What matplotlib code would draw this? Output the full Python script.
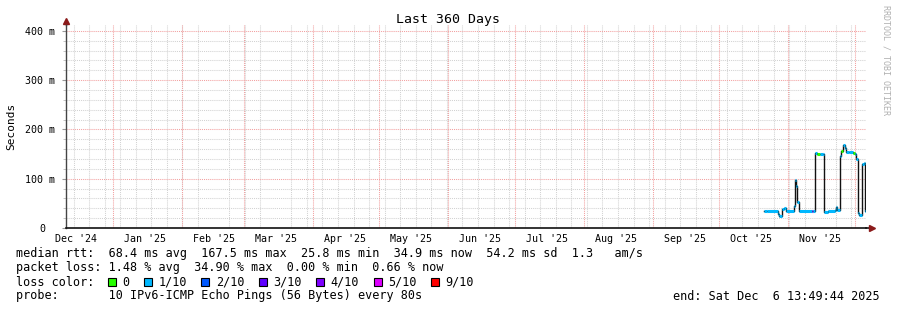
import numpy as np
import pandas as pd
import matplotlib
matplotlib.use('Agg')
import matplotlib.pyplot as plt
import matplotlib.dates as mdates
from matplotlib.ticker import MultipleLocator, FuncFormatter
from matplotlib.patches import Rectangle
from matplotlib.transforms import ScaledTranslation

plt.rcParams['font.family'] = 'DejaVu Sans Mono'

title = "Last 360 Days"
end_time = pd.Timestamp("2025-12-06 13:49:44")
start_time = end_time - pd.Timedelta(days=360)

# median rtt steps (ms)
times = ["2025-10-21 11:00", "2025-10-23 00:00", "2025-10-27 22:00", "2025-10-28 12:00",
         "2025-10-29 18:00", "2025-10-30 14:00", "2025-10-31 17:00", "2025-11-03 23:00",
         "2025-11-04 14:00", "2025-11-05 06:00", "2025-11-05 18:00", "2025-11-06 05:00",
         "2025-11-12 09:00", "2025-11-12 22:00", "2025-11-13 10:00", "2025-11-13 20:00",
         "2025-11-14 10:00", "2025-11-15 22:00", "2025-11-17 08:00", "2025-11-17 19:00",
         "2025-11-19 14:00", "2025-11-22 17:00", "2025-11-23 04:00", "2025-11-23 16:00",
         "2025-11-24 20:00", "2025-11-25 09:00", "2025-11-26 10:00", "2025-11-27 00:00",
         "2025-11-27 14:00", "2025-11-29 00:00", "2025-11-30 20:00", "2025-12-01 16:00",
         "2025-12-02 04:00", "2025-12-03 02:00", "2025-12-03 13:00", "2025-12-04 18:00",
         "2025-12-05 12:00", "2025-12-05 23:00"]
median_ms = [34, 35, 29, 25,
             38, 40, 35, 45,
             98, 86, 52, 34,
             35, 35, 102, 153,
             150, 151, 150, 33,
             34, 36, 43, 36,
             147, 156, 169, 162,
             154, 155, 152, 151,
             141, 31, 27, 129,
             131, 35]
# index into loss_colors for each step
loss_idx = [1, 1, 1, 1,
            1, 1, 1, 1,
            1, 1, 1, 1,
            4, 1, 1, 1,
            0, 1, 1, 1,
            1, 1, 1, 1,
            1, 0, 1, 1,
            1, 1, 0, 1,
            1, 1, 1, 1,
            1, 1]

loss_colors = ['#26ff00', '#00b8ff', '#0059ff', '#5e00ff', '#7e00ff', '#dd00ff', '#ff0000']
loss_labels = ['0', '1/10', '2/10', '3/10', '4/10', '5/10', '9/10']

legend_rtt = "median rtt:  68.4 ms avg  167.5 ms max  25.8 ms min  34.9 ms now  54.2 ms sd  1.3   am/s"
legend_loss = "packet loss: 1.48 % avg  34.90 % max  0.00 % min  0.66 % now"
legend_probe = "probe:       10 IPv6-ICMP Echo Pings (56 Bytes) every 80s"
legend_end = "end: Sat Dec  6 13:49:44 2025"

W, H = 897, 310
fig = plt.figure(figsize=(W / 100, H / 100), dpi=100)
ax = fig.add_axes([66 / W, 1 - 228 / H, 800 / W, 203 / H])

t = list(pd.to_datetime(times)) + [end_time]
v = median_ms + [median_ms[-1]]
ax.step(t, v, where='post', color='#111111', lw=1.0, zorder=4)
ax.hlines(median_ms, t[:-1], t[1:], colors=[loss_colors[i] for i in loss_idx], lw=2.2, zorder=5)

ax.set_xlim(start_time, end_time)
ax.set_ylim(0, 412)

grey = '#d2d2d2'
red = '#f2a0a0'
ax.yaxis.set_major_locator(MultipleLocator(100))
ax.yaxis.set_minor_locator(MultipleLocator(20))
ax.yaxis.set_major_formatter(FuncFormatter(lambda y, p: '0' if y == 0 else '%d m' % y))
ax.xaxis.set_major_locator(mdates.MonthLocator(bymonthday=16))
ax.xaxis.set_minor_locator(mdates.WeekdayLocator(byweekday=mdates.SU))
ax.xaxis.set_major_formatter(mdates.DateFormatter("%b '%y"))

ax.grid(which='minor', color=grey, ls=(0, (1, 1)), lw=0.75, zorder=0)
ax.grid(which='major', axis='y', color=red, ls=(0, (1, 1)), lw=0.75, zorder=1)
for m in pd.date_range(start_time, end_time, freq='MS'):
    ax.axvline(m, color=red, ls=(0, (1, 1)), lw=0.75, zorder=1)
ax.set_axisbelow(True)

ax.tick_params(axis='x', which='both', length=0, pad=4, labelsize=7.2)
ax.tick_params(axis='y', which='major', length=3, color='#999999', pad=5, labelsize=7.2)
ax.tick_params(axis='y', which='minor', length=2, color='#bbbbbb')

for s in ['top', 'right']:
    ax.spines[s].set_visible(False)
ax.spines['left'].set_color('#444444')
ax.spines['bottom'].set_color('#111111')
ax.spines['left'].set_linewidth(1.0)
ax.spines['bottom'].set_linewidth(1.2)

# axis arrows
arrow_c = '#8b1a1a'
ax.plot([0, 0], [1, 1.02], transform=ax.transAxes, color='#444444', lw=1.0, clip_on=False)
ax.plot([1, 1.006], [0, 0], transform=ax.transAxes, color='#111111', lw=1.2, clip_on=False)
ax.plot(0, 1.022, marker='^', ms=4.5, color=arrow_c, transform=ax.transAxes, clip_on=False)
ax.plot(1.007, 0, marker='>', ms=4.5, color=arrow_c, transform=ax.transAxes, clip_on=False)

ax.set_ylabel('Seconds', fontsize=8)
ax.yaxis.set_label_coords((16 - 66) / 800, 0.5)

# rrdtool prints "0" two columns further left
fig.canvas.draw()
for tk in ax.yaxis.get_major_ticks():
    if tk.get_loc() == 0:
        lab = tk.label1
        lab.set_transform(lab.get_transform() + ScaledTranslation(-0.10, 0, fig.dpi_scale_trans))

fig.text(448 / W, 1 - 19 / H, title, ha='center', va='center', fontsize=9.5)
fig.text(886 / W, 1 - 60 / H, "RRDTOOL / TOBI OETIKER", rotation=270, ha='center', va='center',
         fontsize=6, color='#b0b0b0')

fs = 8.5
cw = 7.1
x0 = 16
fig.text(x0 / W, 1 - 254 / H, legend_rtt, va='center', fontsize=fs)
fig.text(x0 / W, 1 - 268 / H, legend_loss, va='center', fontsize=fs)
fig.text(x0 / W, 1 - 282 / H, "loss color:", va='center', fontsize=fs)
fig.text(x0 / W, 1 - 296 / H, legend_probe, va='center', fontsize=fs)
fig.text(880 / W, 1 - 296 / H, legend_end, va='center', ha='right', fontsize=fs)

bx = x0 + 13 * cw - 0.5
for col, lab in zip(loss_colors, loss_labels):
    fig.patches.append(Rectangle((bx / W, 1 - 286 / H), 8 / W, 8 / H, transform=fig.transFigure,
                                 facecolor=col, edgecolor='black', lw=0.8, figure=fig))
    fig.text((bx + 14.5) / W, 1 - 282 / H, lab, va='center', fontsize=fs)
    bx += 14.5 + len(lab) * cw + 14.5

fig.savefig('out.png', dpi=100, facecolor='white')
